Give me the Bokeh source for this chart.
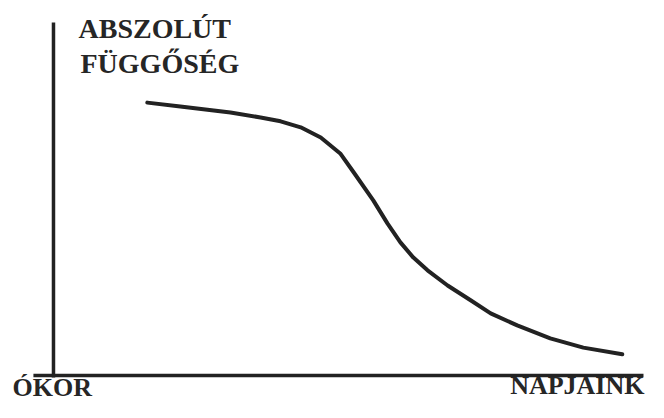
from bokeh.plotting import figure
from bokeh.models import Range1d
from bokeh.core.properties import value
from bokeh.embed import file_html
from bokeh.resources import INLINE

# Data: time (0 = ÓKOR, 100 = NAPJAINK) vs. absolute dependence (0..100)
time_pos = [15.9, 21.5, 30.0, 35.1, 38.5, 41.9, 45.3, 48.6, 50.9, 54.2, 56.6, 58.8,
            61.0, 63.4, 66.8, 70.7, 74.1, 78.6, 84.2, 89.8, 96.4]
dependence = [77.3, 76.2, 74.5, 73.1, 72.0, 70.3, 67.4, 62.9, 57.5, 49.6, 43.1, 37.7,
              33.4, 29.8, 25.5, 21.3, 17.6, 14.2, 10.5, 7.9, 6.0]

y_label_lines = ["ABSZOLÚT", "FÜGGŐSÉG"]
x_start_label = "ÓKOR"
x_end_label = "NAPJAINK"

ink = "#222222"
txt_col = "#262626"
font = value("Liberation Serif")

p = figure(width=648, height=402, output_backend="svg", toolbar_location=None,
           x_range=Range1d(-8.98, 100.85), y_range=Range1d(-7.65, 106.23),
           min_border=0)
p.xaxis.visible = False
p.yaxis.visible = False
p.grid.visible = False
p.outline_line_color = None
p.background_fill_color = "white"
p.border_fill_color = "white"

# hand-drawn axes
p.segment(x0=[0], y0=[-0.6], x1=[0], y1=[100], line_color=ink, line_width=3.5)
p.segment(x0=[-3.4], y0=[0], x1=[100], y1=[0], line_color=ink, line_width=3.5)

# curve
p.line(time_pos, dependence, line_color=ink, line_width=4, line_cap="round", line_join="round")

# labels
p.text(x=[4.24, 4.58], y=[98.4, 88.5], text=y_label_lines,
       text_font=font, text_font_style="bold", text_font_size="28px",
       text_color=txt_col, text_baseline="alphabetic", text_align="left")
p.text(x=[-6.95, 77.4], y=[-3.54, -2.97], text=[x_start_label, x_end_label],
       text_font=font, text_font_style="bold", text_font_size="26px",
       text_color=txt_col, text_baseline="alphabetic", text_align="left")

open("out.html", "w").write(file_html(p, INLINE))
